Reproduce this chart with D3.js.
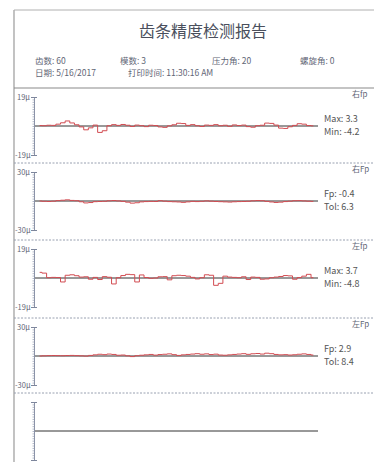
<!DOCTYPE html>
<html>
<head>
<meta charset="utf-8">
<script src="https://cdn.jsdelivr.net/npm/d3@7"></script>
<style>
  body { margin: 0; background: #fff; }
  svg { display: block; font-family: "Noto Sans CJK SC", "Noto Sans", sans-serif; }
</style>
</head>
<body>
<svg width="374" height="462"></svg>
<script>
// report header
const title = '齿条精度检测报告';
const infoRow1 = ['齿数: 60', '模数: 3', '压力角: 20', '螺旋角: 0'];
const infoRow2 = ['日期: 5/16/2017', '打印时间: 11:30:16 AM'];

// one value per tooth (μ)
const fpRight = [0.3,0.2,0.5,0.4,1.2,2.1,3.3,2.0,0.8,-0.6,-2.5,-1.2,0.6,-4.2,-3.1,0.2,0.9,0.4,1.0,0.5,
  -0.3,0.6,0.2,-0.4,0.5,0.3,-0.6,-0.9,0.1,0.8,1.8,1.6,0.4,0.9,0.2,-0.3,0.6,0.4,0.9,0.2,
  0.5,-0.2,0.7,0.3,0.6,-0.4,-0.8,0.2,0.5,1.9,1.7,0.6,-1.4,-1.6,-0.5,0.4,1.5,1.2,0.3,0.1];
const FpRight = [0,-0.3,-0.5,-0.2,0.4,0.8,1.2,0.6,0.3,-0.8,-2.0,-1.6,-0.7,-0.5,-0.3,0.2,0.5,0.1,-0.4,-1.2,
  -2.2,-1.8,-0.9,-0.6,-0.4,-0.5,0.3,-0.2,-0.6,-0.8,-1.0,-1.4,-0.9,-0.4,-0.6,-0.3,0.1,-0.2,-0.5,-0.7,
  -0.9,-1.1,-0.8,-0.6,-0.5,-0.3,0.2,0.5,0.3,-0.4,-1.0,-1.5,-1.2,-0.6,-0.2,0.3,0.4,0.1,-0.2,-0.4];
const fpLeft = [3.7,3.2,0.2,0.4,0.3,-2.6,1.8,2.1,1.5,0.6,0.8,-0.8,0.4,-1.0,0.9,0.5,-3.9,0.2,1.6,2.4,
  2.2,-2.6,2.0,0.3,-0.2,0,0.8,0.9,-1.2,1.5,1.8,1.6,1.2,0.4,-0.6,0.2,2.1,1.8,-4.8,-3.5,
  1.2,0.6,0.4,0.2,0.8,-1.0,0.6,0.4,-0.8,-0.6,0.2,0.6,1.0,1.6,1.4,-0.8,0.3,1.2,2.4,0.2];
const FpLeft = [0,0.2,0.4,0.5,0.4,0.3,0.5,0.6,0.4,0.2,-0.1,0.6,1.2,1.8,1.4,2.0,1.6,0.8,1.0,0.2,
  -0.6,0.3,0.8,1.2,1.6,0.9,1.5,1.8,2.2,1.4,0.6,1.2,1.6,2.0,2.4,1.8,2.2,1.5,1.9,1.0,
  0.8,1.2,1.6,2.0,2.4,1.7,2.3,2.6,2.0,2.9,2.4,1.6,1.2,1.4,1.0,1.3,1.8,2.2,1.6,1.0];

const panelNames = ['右fp', '右Fp', '左fp', '左Fp', ''];
const panelRange = [19, 30, 19, 30, 19];
const panelSeries = [fpRight, FpRight, fpLeft, FpLeft, null];
const statLabels = [['Max: 3.3', 'Min: -4.2'], ['Fp: -0.4', 'Tol: 6.3'], ['Max: 3.7', 'Min: -4.8'], ['Fp: 2.9', 'Tol: 8.4'], []];

const svg = d3.select('svg');
const W = 374, H = 462;
const frameLeft = 14, frameTop = 10, headerBottom = 88;
const panelTops = [88, 163, 240, 318, 393];
const panelH = 76;

const textCol = '#5f6676';

// page frame
svg.append('line').attr('x1', frameLeft).attr('x2', frameLeft).attr('y1', frameTop).attr('y2', H)
  .attr('stroke', '#9a9a9a').attr('stroke-width', 1.2);
svg.append('line').attr('x1', frameLeft).attr('x2', W).attr('y1', frameTop).attr('y2', frameTop)
  .attr('stroke', '#b0b0b0');
svg.append('line').attr('x1', frameLeft).attr('x2', W).attr('y1', headerBottom).attr('y2', headerBottom)
  .attr('stroke', '#8a8a8a').attr('stroke-width', 1.2);

svg.append('text').attr('x', 203).attr('y', 37).attr('text-anchor', 'middle')
  .attr('font-size', 16).attr('fill', '#4a4f5c').text(title);

const row1X = [35, 120, 212, 300];
svg.selectAll('.info1').data(infoRow1).enter().append('text')
  .attr('x', (d, i) => row1X[i]).attr('y', 64).attr('font-size', 8.5).attr('fill', textCol).text(d => d);
const row2X = [35, 128];
svg.selectAll('.info2').data(infoRow2).enter().append('text')
  .attr('x', (d, i) => row2X[i]).attr('y', 76).attr('font-size', 8.5).attr('fill', textCol).text(d => d);

// tooth position
const x = d3.scaleLinear().domain([0, 61]).range([35, 318]);

panelTops.forEach((pt, i) => {
  const g = svg.append('g');
  if (i > 0) {
    g.append('line').attr('x1', frameLeft).attr('x2', W).attr('y1', pt).attr('y2', pt)
      .attr('stroke', '#98a0b0').attr('stroke-dasharray', '2,1.5');
  }
  const r = panelRange[i];
  const y = d3.scaleLinear().domain([-r, r]).range([pt + panelH - 9, pt + 9]);

  // ruler-style axis
  const minor = d3.range(-r, r + 0.01, r / 12);
  g.append('g').attr('transform', 'translate(34,0)')
    .call(d3.axisLeft(y).tickValues(minor).tickSize(1.5).tickFormat(''))
    .call(a => a.select('.domain').attr('stroke', '#8b93a8'))
    .call(a => a.selectAll('.tick line').attr('stroke', '#b4bac8'));
  g.append('g').attr('transform', 'translate(34,0)')
    .call(d3.axisLeft(y).tickValues([-r, r]).tickSizeInner(-3).tickSizeOuter(0).tickFormat(''))
    .call(a => a.select('.domain').remove())
    .call(a => a.selectAll('.tick line').attr('x1', -3).attr('stroke', '#7d869c'));

  if (i < 4) {
    g.append('text').attr('x', 17).attr('y', y(r) + 3).attr('font-size', 7.5).attr('fill', textCol).text(r + 'μ');
    g.append('text').attr('x', 15).attr('y', y(-r) + 3).attr('font-size', 7.5).attr('fill', textCol).text('-' + r + 'μ');
    g.append('text').attr('x', 352).attr('y', pt + 9).attr('font-size', 8).attr('fill', textCol).text(panelNames[i]);
  }

  // zero line
  g.append('line').attr('x1', x(0)).attr('x2', x(61)).attr('y1', y(0)).attr('y2', y(0))
    .attr('stroke', '#333').attr('stroke-width', 1);

  const s = panelSeries[i];
  if (s) {
    const line = d3.line().x((d, k) => x(k + 1)).y(d => y(d)).curve(d3.curveStep);
    g.append('path').datum(s).attr('d', line).attr('fill', 'none')
      .attr('stroke', '#d24c52').attr('stroke-width', 1);
  }

  g.selectAll('.stat').data(statLabels[i]).enter().append('text')
    .attr('x', 324).attr('y', (d, k) => y(0) - 4 + k * 13).attr('font-size', 9).attr('fill', '#555')
    .text(d => d);
});
</script>
</body>
</html>
